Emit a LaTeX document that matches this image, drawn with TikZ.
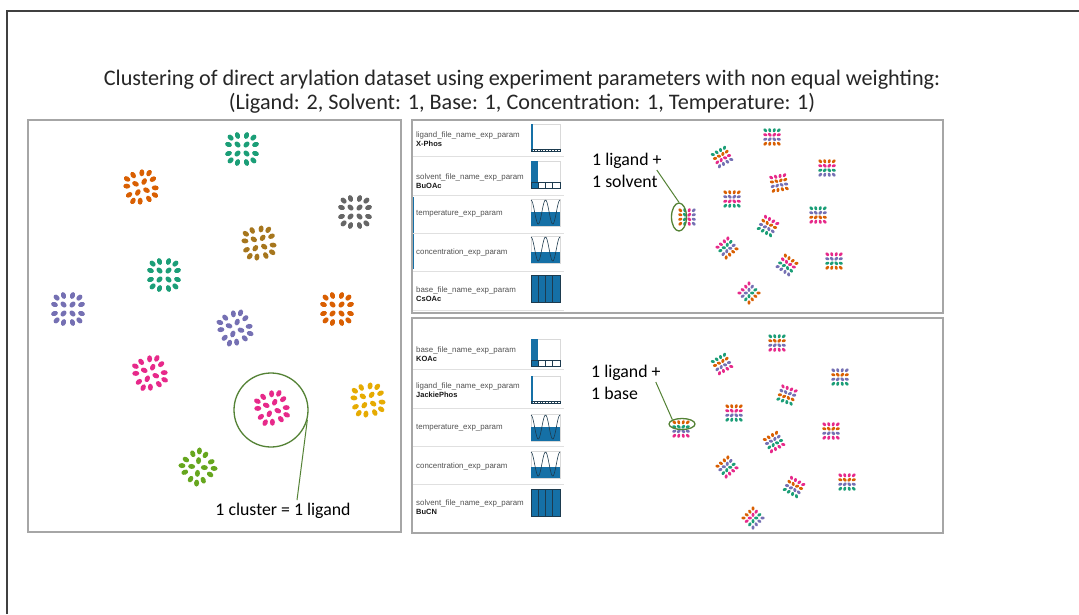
\documentclass[tikz,border=0pt]{standalone}
\usepackage{fontspec}
\setmainfont{Carlito}
\newfontfamily\uifont{Liberation Sans}
\usetikzlibrary{positioning, shapes.geometric}

\definecolor{dkTeal}{HTML}{1B9E77}
\definecolor{dkOrange}{HTML}{D95F02}
\definecolor{dkPurple}{HTML}{7570B3}
\definecolor{dkPink}{HTML}{E7298A}
\definecolor{dkLime}{HTML}{66A61E}
\definecolor{dkYellow}{HTML}{E6AB02}
\definecolor{dkBrown}{HTML}{A6761D}
\definecolor{dkGray}{HTML}{666666}
\definecolor{chartblue}{HTML}{1570A6}
\definecolor{chartdark}{HTML}{1D3B4F}
\definecolor{annogreen}{HTML}{548235}
\definecolor{panelgray}{HTML}{A6A6A6}

\newcommand{\us}{\textunderscore}

% one ligand cluster, single colour: x, y, rotation, colour
\newcommand{\bigclust}[4]{%
  \begin{scope}[shift={(#1,#2)}, rotate=#3]
    \foreach \i in {-1.5,-0.5,0.5,1.5}{
      \foreach \j in {-1.5,-0.5,0.5,1.5}{
        \pgfmathsetmacro{\ang}{atan2(-\j,\i)}
        \pgfmathsetmacro{\f}{(abs(\i)+abs(\j)>2.5) ? 7.6 : 9}
        \fill[#4, rotate around={\ang:(\i*\f,\j*\f)}] (\i*\f,\j*\f) ellipse [x radius=3.5pt, y radius=2.5pt];
      }}
  \end{scope}}

% mixed cluster, one colour per row: x, y, rotation, four colours
\newcommand{\smallclust}[7]{%
  \begin{scope}[shift={(#1,#2)}, rotate=#3]
    \foreach \j/\cc in {-1.5/#4,-0.5/#5,0.5/#6,1.5/#7}{
      \foreach \i in {-1.5,-0.5,0.5,1.5}{
        \pgfmathsetmacro{\ang}{atan2(-\j,\i)}
        \fill[\cc, rotate around={\ang:(\i*4.5,\j*4.5)}] (\i*4.5,\j*4.5) ellipse [x radius=2.1pt, y radius=1.5pt];
      }}
  \end{scope}}

% little charts of the parameter list, lower left corner x, y
\newcommand{\chartlig}[2]{%
  \draw[chartframe] (#1,#2) rectangle ++(29,-27);
  \fill[chartblue] (#1+0.4,#2) rectangle ++(1.8,-27);
  \foreach \k in {0,...,9}
    \draw[chartdark, line width=0.35pt] (#1+\k*2.9,#2) rectangle ++(2.9,-1.8);}
\newcommand{\chartfour}[2]{%
  \draw[chartframe] (#1,#2) rectangle ++(29,-27);
  \fill[chartblue] (#1,#2) rectangle ++(7.25,-27);
  \foreach \k in {0,...,3}
    \draw[chartdark, line width=0.6pt] (#1+\k*7.25,#2) rectangle ++(7.25,-6);}
\newcommand{\chartwave}[3]{%
  \draw[chartframe] (#1,#2) rectangle ++(29,-27);
  \fill[chartblue] (#1,#2) rectangle ++(29,-#3);
  \draw[chartdark, line width=0.6pt, domain=0:29, samples=50, smooth]
    plot ({#1+\x},{#2-26+12*(1-cos(\x*24.83))});}
\newcommand{\chartfull}[2]{%
  \fill[chartblue] (#1,#2) rectangle ++(29,-27);
  \foreach \k in {0,...,3}
    \draw[chartdark, line width=0.6pt] (#1+\k*7.25,#2) rectangle ++(7.25,-27);}

\begin{document}
\begin{tikzpicture}[x=1pt, y=-1pt]

  \tikzset{
    panel/.style={draw=panelgray, line width=1.3pt},
    slideedge/.style={draw=black!75, line width=1.1pt},
    titletxt/.style={font=\fontsize{22.2}{24}\selectfont, text=black!85, align=center, inner sep=0pt},
    annotxt/.style={font=\fontsize{17.8}{22}\selectfont, text=black, align=left, inner sep=0pt},
    annoline/.style={draw=annogreen, line width=1pt},
    annoring/.style={draw=annogreen, line width=1.3pt, inner sep=0pt},
    parlab/.style={font=\uifont\fontsize{7.9}{8}\selectfont, text=black!68, inner sep=0pt, anchor=west},
    parval/.style={font=\uifont\bfseries\fontsize{7.5}{8}\selectfont, text=black!90, inner sep=0pt},
    rowsep/.style={draw=black!12, line width=0.6pt},
    chartframe/.style={draw=black!15, fill=white, line width=0.5pt},
  }

  \useasboundingbox (0,0) rectangle (1079,614);
  \fill[white] (0,0) rectangle (1079,614);
  \draw[slideedge] (7,614) -- (7,11) -- (1079,11);

  \node[titletxt] (title) at (522,92) {Clustering of direct arylation dataset using experiment parameters with non equal weighting:\\(Ligand: 2, Solvent: 1, Base: 1, Concentration: 1, Temperature: 1)};

  % left panel: one cluster per ligand
  \draw[panel] (28,120) rectangle (401,532);
  \bigclust{242}{149}{0}{dkTeal}
  \bigclust{141}{187}{15}{dkOrange}
  \bigclust{355}{212}{0}{dkGray}
  \bigclust{259}{243}{10}{dkBrown}
  \bigclust{164}{275}{0}{dkTeal}
  \bigclust{68}{309}{0}{dkPurple}
  \bigclust{337}{309}{0}{dkOrange}
  \bigclust{235}{328}{25}{dkPurple}
  \bigclust{150}{373}{20}{dkPink}
  \bigclust{272}{408}{20}{dkPink}
  \bigclust{368}{400}{10}{dkYellow}
  \bigclust{198}{467}{40}{dkLime}

  \node[annoring, circle, minimum size=74pt] (ligring) at (271,410) {};
  \node[annotxt] (ligtxt) at (283,511) {1 cluster = 1 ligand};
  \draw[annoline] (ligring.-15) -- ([xshift=14pt, yshift=3pt]ligtxt.north);

  % top right panel
  \draw[panel] (412,120) rectangle (943,313);
  \draw[chartblue, line width=0.8pt] (413.5,197) -- (413.5,269);
  \foreach \yy in {156,195,233,271,310}
    \draw[rowsep] (413,\yy) -- (564,\yy);

  \node[parlab] (tl1) at (416,135) {ligand\us file\us name\us exp\us param};
  \node[parval, below=2pt of tl1.south west, anchor=north west] (tv1) {X-Phos};
  \node[parlab] (tl2) at (416,177) {solvent\us file\us name\us exp\us param};
  \node[parval, below=2pt of tl2.south west, anchor=north west] (tv2) {BuOAc};
  \node[parlab] (tl3) at (416,214) {temperature\us exp\us param};
  \node[parlab] (tl4) at (416,252) {concentration\us exp\us param};
  \node[parlab] (tl5) at (416,290) {base\us file\us name\us exp\us param};
  \node[parval, below=2pt of tl5.south west, anchor=north west] (tv5) {CsOAc};

  \chartlig{531}{151}
  \chartfour{531}{188}
  \chartwave{531}{226}{14}
  \chartwave{531}{263}{11}
  \chartfull{531}{302}

  \smallclust{772}{137}{0}{dkTeal}{dkPink}{dkPurple}{dkOrange}
  \smallclust{722}{157}{30}{dkTeal}{dkOrange}{dkPink}{dkPurple}
  \smallclust{827}{168}{0}{dkOrange}{dkPink}{dkTeal}{dkPurple}
  \smallclust{779}{183}{10}{dkPink}{dkOrange}{dkPurple}{dkOrange}
  \smallclust{732}{199}{0}{dkOrange}{dkPurple}{dkPink}{dkTeal}
  \smallclust{687}{217}{90}{dkOrange}{dkTeal}{dkPink}{dkPurple}
  \smallclust{818}{215}{0}{dkTeal}{dkPurple}{dkOrange}{dkPink}
  \smallclust{768}{226}{-30}{dkPink}{dkOrange}{dkPurple}{dkTeal}
  \smallclust{727}{248}{40}{dkPink}{dkTeal}{dkPurple}{dkOrange}
  \smallclust{834}{261}{0}{dkPink}{dkPurple}{dkTeal}{dkOrange}
  \smallclust{787}{265}{-35}{dkOrange}{dkPink}{dkTeal}{dkPurple}
  \smallclust{749}{293}{45}{dkPink}{dkPurple}{dkTeal}{dkOrange}

  \node[annoring, ellipse, minimum width=15pt, minimum height=28pt] (solvring) at (679,217) {};
  \node[annotxt, anchor=west] (solvtxt) at (592,170) {1 ligand +\\1 solvent};
  \draw[annoline] ([xshift=-5pt]solvtxt.east) -- (solvring.north);

  % bottom right panel
  \draw[panel] (412,318) rectangle (943,533);
  \foreach \yy in {369,408,446,484}
    \draw[rowsep] (413,\yy) -- (564,\yy);

  \node[parlab] (bl1) at (416,350) {base\us file\us name\us exp\us param};
  \node[parval, below=2pt of bl1.south west, anchor=north west] (bv1) {KOAc};
  \node[parlab] (bl2) at (416,386) {ligand\us file\us name\us exp\us param};
  \node[parval, below=2pt of bl2.south west, anchor=north west] (bv2) {JackiePhos};
  \node[parlab] (bl3) at (416,428) {temperature\us exp\us param};
  \node[parlab] (bl4) at (416,466) {concentration\us exp\us param};
  \node[parlab] (bl5) at (416,503) {solvent\us file\us name\us exp\us param};
  \node[parval, below=2pt of bl5.south west, anchor=north west] (bv5) {BuCN};

  \chartfour{531}{366}
  \chartlig{531}{403}
  \chartwave{531}{441}{14}
  \chartwave{531}{478}{11}
  \chartfull{531}{516}

  \smallclust{777}{343}{0}{dkTeal}{dkOrange}{dkPurple}{dkPink}
  \smallclust{722}{364}{30}{dkTeal}{dkOrange}{dkPurple}{dkPink}
  \smallclust{840}{377}{0}{dkPurple}{dkOrange}{dkPurple}{dkTeal}
  \smallclust{787}{395}{-20}{dkPink}{dkPurple}{dkOrange}{dkTeal}
  \smallclust{734}{413}{0}{dkOrange}{dkPink}{dkPurple}{dkTeal}
  \smallclust{681}{429}{0}{dkOrange}{dkTeal}{dkPurple}{dkPink}
  \smallclust{831}{431}{0}{dkPink}{dkOrange}{dkPurple}{dkPink}
  \smallclust{774}{442}{30}{dkOrange}{dkPurple}{dkTeal}{dkPink}
  \smallclust{727}{467}{40}{dkOrange}{dkPurple}{dkTeal}{dkPink}
  \smallclust{847}{482}{0}{dkPink}{dkOrange}{dkPurple}{dkTeal}
  \smallclust{794}{487}{-30}{dkPink}{dkOrange}{dkPurple}{dkTeal}
  \smallclust{753}{518}{45}{dkOrange}{dkPink}{dkTeal}{dkPurple}

  \node[annoring, ellipse, minimum width=26pt, minimum height=11pt] (basering) at (682,424) {};
  \node[annotxt, anchor=west] (basetxt) at (591,382) {1 ligand +\\1 base};
  \draw[annoline] ([xshift=-5pt]basetxt.east) -- (basering.north west);

\end{tikzpicture}
\end{document}
